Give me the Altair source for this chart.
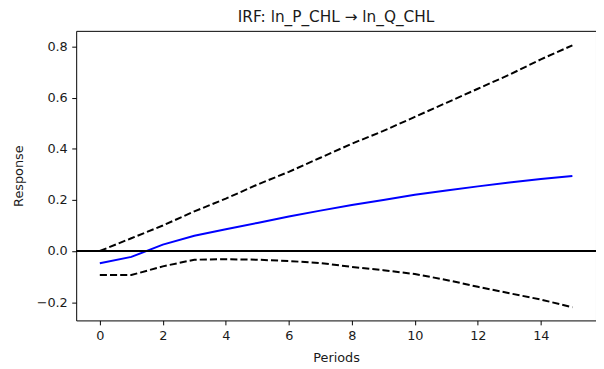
import altair as alt
import pandas as pd

periods = list(range(16))
irf = [-0.048, -0.023, 0.025, 0.060, 0.085, 0.110, 0.135, 0.158, 0.180, 0.200, 0.220, 0.237, 0.253, 0.268, 0.282, 0.294]
lower = [-0.094, -0.094, -0.060, -0.034, -0.032, -0.034, -0.039, -0.047, -0.062, -0.075, -0.090, -0.113, -0.140, -0.165, -0.190, -0.220]
upper = [0.000, 0.050, 0.100, 0.155, 0.205, 0.260, 0.310, 0.365, 0.420, 0.470, 0.525, 0.580, 0.635, 0.690, 0.750, 0.805]

rows = []
for i, p in enumerate(periods):
    rows.append({"Period": p, "value": irf[i], "series": "irf"})
    rows.append({"Period": p, "value": lower[i], "series": "lower"})
    rows.append({"Period": p, "value": upper[i], "series": "upper"})
df = pd.DataFrame(rows)

FONT = "DejaVu Sans"
TXT = "#1a1a1a"
xscale = alt.Scale(domain=[-0.75, 15.75], nice=False, zero=False)
yscale = alt.Scale(domain=[-0.2715, 0.8615], nice=False, zero=False)

common = dict(grid=False, tickSize=4.5, labelPadding=4.5, tickColor="black", tickWidth=1,
              domain=False, labelFontSize=13, titleFontSize=13, titleFontWeight="normal",
              labelColor=TXT, titleColor=TXT, labelFont=FONT, titleFont=FONT)

xaxis = alt.Axis(values=[0, 2, 4, 6, 8, 10, 12, 14], format="d", title="Periods",
                 titlePadding=10, **common)
yaxis = alt.Axis(values=[-0.2, 0, 0.2, 0.4, 0.6, 0.8], format=".1f", title="Response",
                 titlePadding=11, **common)

base = alt.Chart(df)

bands = base.transform_filter(alt.datum.series != "irf").mark_line(
    color="black", strokeWidth=2, strokeDash=[7.2, 3.1]
).encode(
    x=alt.X("Period:Q", scale=xscale, axis=xaxis),
    y=alt.Y("value:Q", scale=yscale, axis=yaxis),
    detail="series:N",
)

line = base.transform_filter(alt.datum.series == "irf").mark_line(
    color="blue", strokeWidth=2
).encode(
    x=alt.X("Period:Q", scale=xscale),
    y=alt.Y("value:Q", scale=yscale),
)

zero = alt.Chart(pd.DataFrame({"y": [0]})).mark_rule(color="black", strokeWidth=2).encode(
    y=alt.Y("y:Q", scale=yscale)
)

chart = alt.layer(bands, line, zero).properties(
    width=526, height=293,
    title=alt.Title("IRF: ln_P_CHL → ln_Q_CHL", fontSize=15.5, fontWeight="normal",
                    font=FONT, color=TXT, offset=5),
    autosize=alt.AutoSizeParams(type="none"),
    padding={"left": 69, "top": 21, "right": 0, "bottom": 45},
).configure_view(stroke="black", strokeWidth=1)

chart.save("out.html", embed_options={"renderer": "svg", "actions": False})
